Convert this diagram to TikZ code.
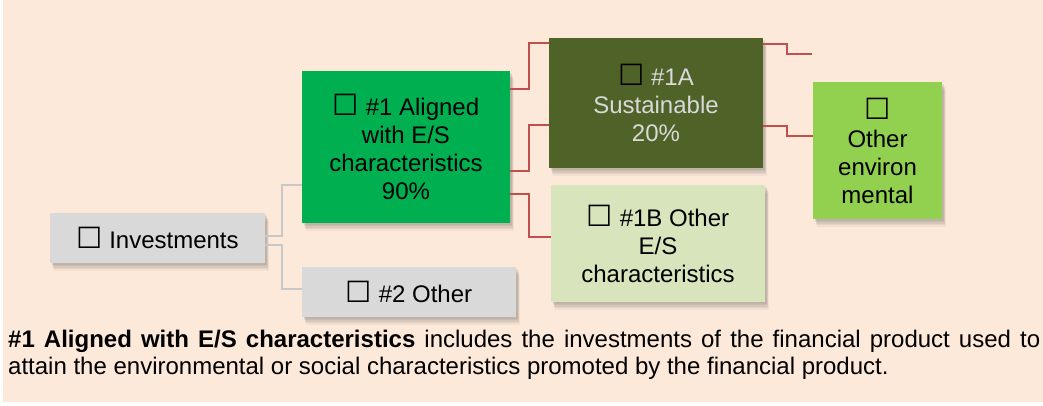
\documentclass[tikz,border=0pt]{standalone}
\usepackage{fontspec}
\usepackage{graphicx}
\setmainfont{Liberation Sans}
\newfontfamily\dejavu{DejaVu Sans}
\usetikzlibrary{shadows}
\definecolor{peach}{HTML}{FDE9D9}
\definecolor{boxgray}{HTML}{D9D9D9}
\definecolor{aligngreen}{HTML}{00B050}
\definecolor{sustgreen}{HTML}{4F6228}
\definecolor{paleg}{HTML}{D7E4BC}
\definecolor{limeg}{HTML}{92D050}
\definecolor{redline}{RGB}{192,80,77}
\definecolor{grayline}{HTML}{C8C8C8}
\definecolor{lighttext}{HTML}{D9D9D9}
\newcommand\mybox{\scalebox{1.22}{\dejavu ☐}}
\tikzset{
  shad/.style={
    general shadow={fill=black!70,opacity=0.08,shadow xshift=1.5pt,shadow yshift=-1.5pt},
    general shadow={fill=black!70,opacity=0.09,shadow xshift=2pt,shadow yshift=-3pt},
    general shadow={fill=black!70,opacity=0.09,shadow xshift=2.5pt,shadow yshift=-4.5pt},
    general shadow={fill=black!70,opacity=0.08,shadow xshift=3pt,shadow yshift=-6pt},
    general shadow={fill=black!70,opacity=0.06,shadow xshift=3.5pt,shadow yshift=-8pt}},
  bbox/.style={shad,rectangle,inner sep=0pt,align=center,
    font=\fontsize{24pt}{28pt}\selectfont},
  gl/.style={draw=grayline,line width=2pt},
  rl/.style={draw=redline,line width=2pt},
}
\begin{document}
\begin{tikzpicture}[x=1pt,y=-1pt]
\useasboundingbox (0,0) rectangle (1043,405);
\fill[white] (0,0) rectangle (1043,405);
\fill[peach] (3,0) rectangle (1043,402);

\node[bbox,fill=boxgray,minimum width=215pt,minimum height=50pt] (inv) at (157.5,238) {\mybox{} Investments};
\node[bbox,fill=aligngreen,minimum width=208pt,minimum height=152pt] (al) at (406,147) {\mybox{} \#1 Aligned\\with E/S\\characteristics\\90\%};
\node[bbox,fill=boxgray,minimum width=214pt,minimum height=50pt] (oth) at (409,292) {\mybox{} \#2 Other};
\node[bbox,fill=sustgreen,text=lighttext,minimum width=214pt,minimum height=130pt] (sa) at (656,103) {\textcolor{black}{\mybox} \#1A\\Sustainable\\20\%};
\node[bbox,fill=paleg,minimum width=214pt,minimum height=117pt] (ob) at (658,243.5) {\mybox{} \#1B Other\\E/S\\characteristics};
\node[bbox,fill=limeg,minimum width=129pt,minimum height=137pt] (env) at (877.5,150.5) {\mybox\\Other\\environ\\mental};
\coordinate (fe) at (812,54);

\draw[gl] ([yshift=2pt]inv.east) -- ++(17pt,0) |- ([yshift=-38pt]al.west);
\draw[gl] ([yshift=-7pt]inv.east) -- ++(17pt,0) |- ([yshift=3pt]oth.west);
\draw[rl] ([yshift=58pt]al.east) -- ++(19pt,0) |- ([yshift=60pt]sa.west);
\draw[rl] ([yshift=-24pt]al.east) -- ++(19pt,0) |- ([yshift=-22pt]sa.west);
\draw[rl] ([yshift=-47pt]al.east) -- ++(19pt,0) |- ([yshift=6.5pt]ob.west);
\draw[rl] ([yshift=59pt]sa.east) -- ++(24pt,0) |- (fe);
\draw[rl] ([yshift=-23pt]sa.east) -- ++(24pt,0) |- ([yshift=14.5pt]env.west);

\node[anchor=north west,text width=1032pt,align=justify,inner sep=0pt,
  font=\fontsize{24pt}{27pt}\selectfont] (txt) at (8,330)
  {\textbf{\#1 Aligned with E/S characteristics} includes the investments of the financial product used to\linebreak attain the environmental or social characteristics promoted by the financial product.};
\end{tikzpicture}
\end{document}
